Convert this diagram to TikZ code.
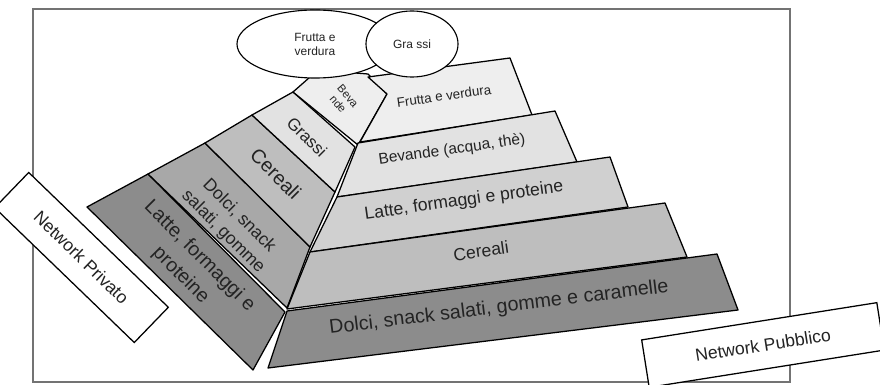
\documentclass[tikz,border=0pt]{standalone}
\usepackage{fontspec}
\setsansfont{Liberation Sans}
\usepackage{tikz}
\usetikzlibrary{shapes.geometric}
\tikzset{
  band/.style = {draw=black, line width=0.9pt, line join=round},
  lbl/.style = {align=center, inner sep=1pt, text=my_text, font=\sffamily},
  lbl_r/.style = {lbl, rotate=8},
  lbl_l/.style = {lbl, rotate=-45},
  cloud_n/.style = {ellipse, draw=black, line width=0.8pt, fill=white, inner sep=0pt, align=center,
  text=my_text, font=\sffamily\fontsize{8.5}{10}\selectfont},
  net_box/.style = {rectangle, draw=black, line width=0.9pt, fill=white, inner sep=0pt, text=my_text,
  font=\sffamily\fontsize{12.5}{15}\selectfont}
}
\definecolor{my_text}{RGB}{35, 35, 35}
\definecolor{my_frame}{RGB}{115, 115, 115}
\definecolor{gray_1}{RGB}{140, 140, 140}
\definecolor{gray_2}{RGB}{168, 168, 168}
\definecolor{gray_3}{RGB}{190, 190, 190}
\definecolor{gray_4}{RGB}{208, 208, 208}
\definecolor{gray_5}{RGB}{226, 226, 226}
\definecolor{gray_6}{RGB}{238, 238, 238}

\begin{document}
\begin{tikzpicture}[x=0.025cm, y=-0.025cm,
        big/.style={font=\sffamily\fontsize{14}{19}\selectfont},
        mid/.style={font=\sffamily\fontsize{12.5}{16}\selectfont},
        small/.style={font=\sffamily\fontsize{11}{13}\selectfont}]
  \useasboundingbox (0,0) rectangle (880,385);
  \draw[my_frame, line width=1.4pt] (33,9) rectangle (790,382);

  % lato privato
  \filldraw[band, fill=gray_1] (87,207) -- (148,174) -- (285,312) -- (253,370) -- cycle;
  \filldraw[band, fill=gray_2] (148,174) -- (205,143) -- (310,247) -- (287,308) -- cycle;
  \filldraw[band, fill=gray_3] (205,143) -- (252,115) -- (335,192) -- (310,247) -- cycle;
  \filldraw[band, fill=gray_5] (252,115) -- (293,92) -- (355,147) -- (335,192) -- cycle;
  \filldraw[band, fill=gray_6] (293,92) -- (318,70) -- (368,74) -- (387,94) -- (358,145) -- cycle;

  % lato pubblico
  \filldraw[band, fill=gray_6] (360,142) -- (387,94) -- (368,77) -- (510,58) -- (532,115) -- cycle;
  \filldraw[band, fill=gray_5] (337,197) -- (577,162) -- (555,111) -- (358,143) -- cycle;
  \filldraw[band, fill=gray_4] (310,252) -- (628,207) -- (610,157) -- (337,197) -- cycle;
  \filldraw[band, fill=gray_3] (287,309) -- (687,257) -- (665,203) -- (310,252) -- cycle;
  \filldraw[band, fill=gray_1] (268,368) -- (738,310) -- (717,254) -- (287,311) -- cycle;

  \node[lbl_l, big] (l_latte) at (190,266) {Latte, formaggi e\\proteine};
  \node[lbl_l, mid] (l_dolci) at (231,224) {Dolci, snack\\salati, gomme};
  \node[lbl_l, big] (l_cereali) at (276,174) {Cereali};
  \node[lbl_l, font=\sffamily\fontsize{12}{14}\selectfont] (l_grassi) at (307,137) {Grassi};
  \node[lbl, rotate=-50, font=\sffamily\fontsize{8}{9}\selectfont] (l_beva) at (343,100) {Beva\\nde};

  \node[lbl, rotate=7, big] (r_dolci) at (499,308) {Dolci, snack salati, gomme e caramelle};
  \node[lbl_r, mid] (r_cereali) at (481,251) {Cereali};
  \node[lbl_r, mid] (r_latte) at (464,201) {Latte, formaggi e proteine};
  \node[lbl_r, small] (r_bevande) at (452,150) {Bevande (acqua, thè)};
  \node[lbl_r, font=\sffamily\fontsize{9.5}{11}\selectfont] (r_frutta) at (444,96) {Frutta e verdura};

  \node[cloud_n, minimum width=3.9cm, minimum height=1.7cm] (frutta) at (315,44) {Frutta e\\verdura};
  \node[cloud_n, minimum width=2.3cm, minimum height=1.65cm] (grassi) at (412,44) {Gra ssi};

  \node[net_box, rotate=-44, minimum width=4.85cm, minimum height=1.225cm] (privato) at (81.5,257.5) {Network Privato};
  \node[net_box, rotate=9, minimum width=5.95cm, minimum height=1.2cm] (pubblico) at (763,345) {Network Pubblico};
\end{tikzpicture}
\end{document}
